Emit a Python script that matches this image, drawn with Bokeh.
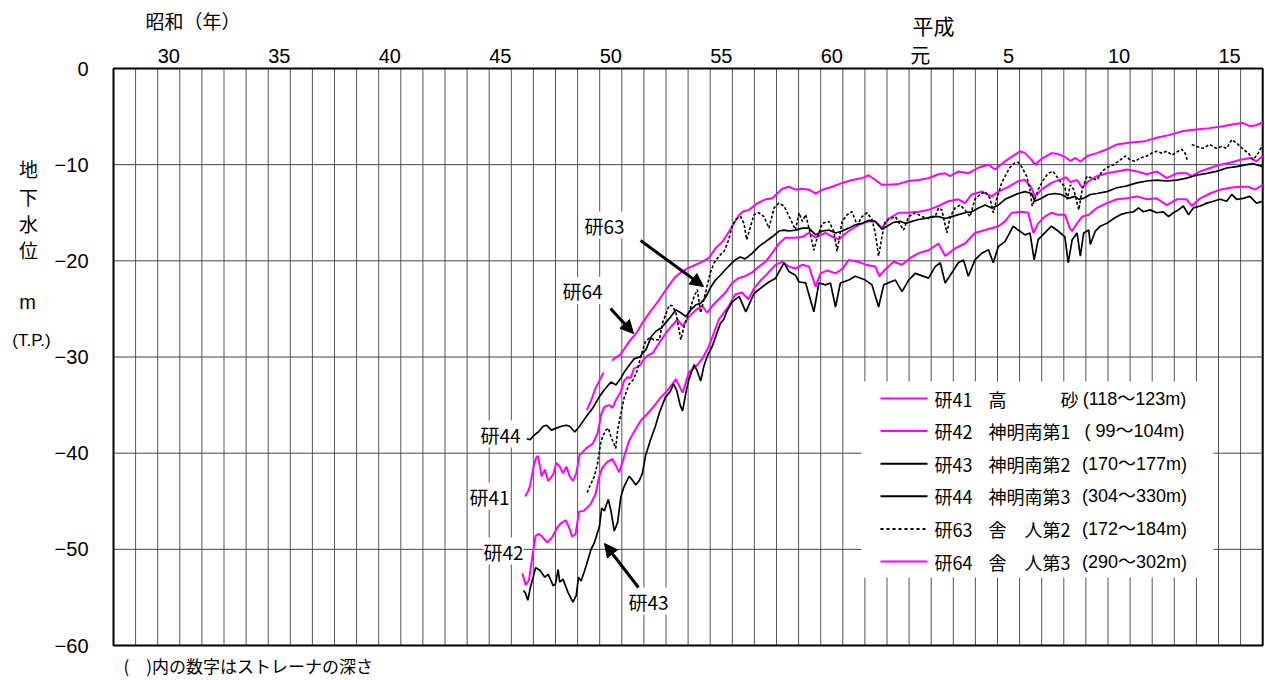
import math
from bokeh.plotting import figure
from bokeh.models import Label, Arrow, NormalHead, Range1d
from bokeh.core.properties import value
from bokeh.embed import file_html
from bokeh.resources import INLINE

NAN = float("nan")

# ---------------- data ----------------
era_tick_years = [1955.5, 1960.5, 1965.5, 1970.5, 1975.5, 1980.5, 1985.5, 1989.5, 1993.5, 1998.5, 2003.5]
era_tick_labels = ["30", "35", "40", "45", "50", "55", "60", "元", "5", "10", "15"]
level_ticks = [0, -10, -20, -30, -40, -50, -60]
level_labels = ["0", "−10", "−20", "−30", "−40", "−50", "−60"]
year_start, year_end = 1953, 2005
year_grid = list(range(1954, 2005))
level_grid = [-10, -20, -30, -40, -50]

k41_year = [1971.63, 1971.75, 1971.85, 1972.0, 1972.12, 1972.2, 1972.3, 1972.37, 1972.52, 1972.67, 1972.9,
            1973.04, 1973.19, 1973.34, 1973.49, 1973.64, 1973.79, 1973.94, 1974.09, 1974.39, 1974.69, 1974.91,
            1975.06, 1975.21, 1975.43, 1975.58, 1975.73, 1975.96, 1976.1, 1976.25, 1976.4, 1976.55, 1976.81,
            1977.0, 1977.2, 1977.4, 1977.7, 1978.0, 1978.25, 1978.52, 1978.75, 1979.04, 1979.35, 1979.64,
            1979.87, 1980.09, 1980.39, 1980.69, 1980.99, 1981.28, 1981.58, 1981.9, 1982.2, 1982.5, 1982.8,
            1983.11, 1983.41, 1983.86, 1984.17, 1984.47, 1984.77, 1985.0, 1985.22, 1985.52, 1985.82, 1986.05,
            1986.27, 1986.72, 1987.17, 1987.47, 1987.77, 1988.08, 1988.53, 1988.98, 1989.43, 1989.88, 1990.33,
            1990.78, 1991.23, 1991.53, 1991.83, 1992.29, 1992.74, 1993.04, 1993.49, 1993.94, 1994.24, 1994.54,
            1994.69, 1994.99, 1995.44, 1995.89, 1996.1, 1996.3, 1996.6, 1996.83, 1997.13, 1997.5, 1997.95,
            1998.4, 1998.86, 1999.3, 1999.76, 2000.2, 2000.66, 2001.11, 2001.56, 2001.79, 2002.17, 2002.62,
            2003.07, 2003.52, 2003.97, 2004.42, 2004.72, 2005.0]
k41_level = [-44.5, -44.0, -43.4, -41.5, -40.5, -40.3, -41.4, -42.4, -41.7, -42.9, -42.2,
             -41.0, -41.4, -42.1, -41.4, -42.4, -42.9, -42.1, -40.2, -39.5, -39.0, -37.9,
             -36.0, -35.2, -35.0, -35.3, -34.5, -33.6, -32.5, -32.1, -32.2, -31.2, -30.9,
             -30.2, -29.8, -29.6, -28.5, -27.5, -26.8, -26.1, -26.8, -25.8, -25.1, -24.7,
             -25.4, -24.7, -24.0, -23.3, -22.3, -21.8, -21.6, -21.2, -20.6, -20.1, -19.2,
             -18.2, -17.6, -17.6, -17.5, -17.1, -17.6, -17.3, -17.1, -17.5, -17.8, -17.3,
             -16.9, -16.25, -15.9, -15.9, -16.6, -15.6, -15.0, -15.0, -14.9, -14.7, -14.3,
             -13.8, -13.6, -14.0, -13.1, -12.8, -13.3, -12.8, -12.3, -11.7, -11.6, -12.4,
             -13.3, -12.6, -11.9, -11.5, -11.3, -11.8, -11.6, -12.4, -11.7, -11.2, -10.9,
             -10.7, -10.5, -10.7, -11.0, -10.7, -11.4, -10.9, -10.9, -11.2, -10.7, -10.35,
             -10.0, -9.8, -9.5, -9.3, -9.65, -9.1]

k42_year = [1971.5, 1971.65, 1971.8, 1971.95, 1972.1, 1972.25, 1972.4, 1972.63, 1972.86, 1973.09, 1973.24,
            1973.46, 1973.61, 1973.76, 1973.91, 1974.06, 1974.28, 1974.59, 1974.82, 1974.97, 1975.12, 1975.35,
            1975.57, 1975.73, 1975.88, 1976.1, 1976.33, 1976.55, 1976.86, 1977.16, 1977.46, 1977.76, 1978.06,
            1978.45, 1978.75, 1979.04, 1979.35, 1979.64, 1979.94, 1980.39, 1980.84, 1981.13, 1981.43, 1981.73,
            1982.0, 1982.3, 1982.6, 1982.96, 1983.26, 1983.56, 1983.86, 1984.17, 1984.47, 1984.77, 1984.99,
            1985.3, 1985.67, 1986.0, 1986.27, 1986.7, 1987.02, 1987.47, 1987.65, 1987.92, 1988.3, 1988.68,
            1989.05, 1989.43, 1989.88, 1990.33, 1990.63, 1991.08, 1991.53, 1991.98, 1992.44, 1993.04, 1993.34,
            1993.64, 1994.09, 1994.39, 1994.62, 1994.84, 1995.14, 1995.44, 1995.74, 1996.05, 1996.27, 1996.38,
            1996.6, 1996.83, 1997.13, 1997.5, 1997.95, 1998.4, 1998.86, 1999.3, 1999.76, 2000.2, 2000.66,
            2001.11, 2001.56, 2001.79, 2002.17, 2002.62, 2003.07, 2003.52, 2003.97, 2004.35, 2004.65, 2005.0]
k42_level = [-52.5, -53.7, -53.2, -50.8, -48.6, -48.4, -48.7, -49.3, -48.7, -47.7, -47.3,
             -47.0, -47.7, -48.7, -48.4, -46.1, -46.0, -45.3, -44.2, -42.5, -41.5, -40.9,
             -40.6, -41.3, -42.0, -40.4, -38.7, -37.8, -36.6, -35.9, -35.1, -34.2, -33.5,
             -32.3, -33.7, -31.6, -31.0, -30.2, -28.9, -26.1, -24.7, -23.5, -23.3, -24.0,
             -22.8, -22.0, -21.3, -20.4, -20.1, -20.6, -20.8, -20.4, -20.6, -22.7, -21.3,
             -21.0, -21.3, -20.8, -19.9, -20.1, -20.4, -20.6, -21.6, -20.9, -20.1, -20.4,
             -19.7, -19.2, -18.9, -18.2, -19.5, -18.7, -18.2, -17.1, -16.8, -16.4, -15.9,
             -15.0, -14.9, -15.0, -17.1, -16.1, -15.4, -15.0, -15.2, -15.2, -16.6, -16.9,
             -16.1, -15.4, -15.2, -14.5, -14.0, -13.6, -13.5, -13.3, -13.6, -13.5, -14.2,
             -13.6, -13.6, -14.3, -13.5, -13.0, -12.6, -12.4, -12.3, -12.3, -12.6, -12.1]

k43_year = [1971.55, 1971.63, 1971.75, 1971.85, 1972.0, 1972.1, 1972.3, 1972.52, 1972.67, 1972.9, 1973.0,
            1973.12, 1973.19, 1973.34, 1973.57, 1973.79, 1973.94, 1974.04, 1974.16, 1974.39, 1974.61, 1974.76,
            1974.99, 1975.09, 1975.21, 1975.39, 1975.51, 1975.66, 1975.81, 1975.96, 1976.1, 1976.33, 1976.48,
            1976.63, 1976.78, 1976.93, 1977.07, 1977.3, 1977.52, 1977.7, 1977.97, 1978.19, 1978.34, 1978.49,
            1978.64, 1978.75, 1978.9, 1979.04, 1979.27, 1979.42, 1979.57, 1979.72, 1979.87, 1980.09, 1980.26,
            1980.46, 1980.61, 1980.76, 1980.99, 1981.31, 1981.61, 1981.98, 1982.36, 1982.66, 1982.96, 1983.34,
            1983.56, 1983.86, 1984.02, 1984.32, 1984.69, 1984.92, 1985.22, 1985.44, 1985.67, 1985.89, 1986.27,
            1986.57, 1987.02, 1987.32, 1987.62, 1987.85, 1988.15, 1988.38, 1988.68, 1988.98, 1989.28, 1989.88,
            1990.18, 1990.41, 1990.63, 1990.86, 1991.23, 1991.46, 1991.68, 1991.98, 1992.29, 1992.59, 1992.81,
            1993.04, 1993.34, 1993.71, 1993.94, 1994.24, 1994.47, 1994.66, 1994.84, 1995.14, 1995.44, 1995.74,
            1996.05, 1996.2, 1996.38, 1996.6, 1996.75, 1996.9, 1997.13, 1997.2, 1997.43, 1997.65, 1997.95,
            1998.26, 1998.56, 1998.86, 1999.16, 1999.38, 1999.6, 1999.91, 2000.2, 2000.5, 2000.74, 2000.96,
            2001.19, 2001.41, 2001.64, 2001.86, 2002.17, 2002.47, 2002.77, 2003.07, 2003.37, 2003.6, 2003.82,
            2004.12, 2004.42, 2004.72, 2005.0]
k43_level = [-54.3, -54.5, -55.3, -54.1, -52.8, -51.9, -52.2, -52.9, -52.6, -53.8, -53.6,
             -52.1, -53.4, -53.1, -54.5, -55.5, -54.8, -52.9, -53.3, -51.7, -50.0, -49.3,
             -47.6, -45.7, -46.0, -44.8, -46.0, -48.1, -47.2, -44.5, -43.5, -42.4, -42.8,
             -43.3, -42.9, -42.1, -40.3, -38.6, -37.2, -35.8, -34.2, -33.6, -32.8, -33.5,
             -35.0, -35.6, -33.7, -32.3, -30.8, -31.5, -32.5, -30.9, -29.9, -28.9, -27.8,
             -26.5, -26.1, -25.2, -24.3, -23.7, -25.3, -23.4, -22.7, -22.2, -21.8, -20.2,
             -21.1, -21.5, -22.2, -22.3, -25.3, -22.3, -22.5, -22.3, -24.8, -22.3, -22.0,
             -21.6, -22.0, -22.5, -24.8, -22.5, -22.2, -22.0, -23.2, -22.0, -21.3, -21.8,
             -20.6, -20.2, -22.3, -21.5, -20.2, -19.9, -21.6, -19.9, -19.2, -18.85, -20.2,
             -18.5, -18.0, -16.4, -16.8, -17.3, -17.1, -19.9, -17.8, -17.1, -16.4, -16.9,
             -17.5, -20.2, -17.8, -17.1, -19.5, -17.1, -16.8, -18.3, -16.9, -16.4, -16.1,
             -15.6, -15.2, -15.0, -14.9, -14.5, -14.9, -14.7, -15.0, -14.9, -15.4, -15.0,
             -14.7, -14.3, -15.2, -14.5, -14.3, -14.0, -13.8, -13.6, -13.8, -13.1, -13.6,
             -13.5, -13.3, -14.0, -13.8]

k44_year = [1971.7, 1971.85, 1972.0, 1972.22, 1972.45, 1972.6, 1972.82, 1973.04, 1973.27, 1973.49, 1973.64,
            1973.87, 1974.09, 1974.39, 1974.69, 1974.99, 1975.21, 1975.51, 1975.73, 1975.96, 1976.13, 1976.35,
            1976.55, 1976.81, 1977.1, 1977.33, 1977.55, 1977.78, 1978.0, 1978.22, 1978.45, 1978.67, 1978.9,
            1979.12, 1979.34, 1979.57, 1979.79, 1980.01, 1980.24, 1980.46, 1980.69, 1980.91, 1981.13, 1981.36,
            1981.58, 1981.91, 1982.21, 1982.51, 1982.81, 1983.11, 1983.34, 1983.56, 1983.86, 1984.17, 1984.47,
            1984.77, 1985.07, 1985.37, 1985.67, 1985.97, 1986.27, 1986.57, 1986.87, 1987.17, 1987.47, 1987.77,
            1988.0, 1988.3, 1988.6, 1988.83, 1989.13, 1989.43, 1989.73, 1990.03, 1990.33, 1990.63, 1990.93,
            1991.23, 1991.53, 1991.83, 1992.14, 1992.44, 1992.74, 1993.04, 1993.34, 1993.64, 1993.94, 1994.24,
            1994.54, 1994.69, 1994.99, 1995.29, 1995.59, 1995.89, 1996.2, 1996.5, 1996.68, 1996.9, 1997.2,
            1997.5, 1997.95, 1998.4, 1998.86, 1999.3, 1999.76, 2000.2, 2000.66, 2001.11, 2001.56, 2002.0,
            2002.47, 2002.9, 2003.37, 2003.82, 2004.27, 2004.57, 2005.0]
k44_level = [-38.5, -38.6, -38.2, -37.8, -37.2, -37.1, -37.6, -37.4, -37.2, -37.1, -37.2,
             -37.8, -37.2, -36.2, -35.3, -34.1, -33.4, -32.6, -32.9, -32.2, -31.5, -30.8,
             -30.2, -30.0, -29.2, -27.9, -27.3, -27.0, -26.4, -25.8, -25.1, -25.4, -25.8,
             -25.1, -24.6, -24.4, -23.8, -22.8, -22.0, -21.5, -20.9, -20.4, -19.9, -19.6,
             -19.8, -19.2, -18.5, -18.0, -17.5, -16.9, -16.8, -16.9, -16.8, -16.6, -16.6,
             -17.3, -16.9, -16.8, -17.1, -16.9, -16.6, -16.25, -16.1, -15.8, -15.9, -16.7,
             -16.4, -16.0, -15.9, -16.1, -15.9, -15.7, -15.6, -15.4, -15.4, -15.6, -15.4,
             -15.2, -15.0, -14.9, -14.5, -14.2, -14.5, -14.2, -13.6, -13.3, -13.0, -12.8,
             -13.0, -13.8, -13.5, -13.1, -13.0, -13.1, -13.5, -13.3, -13.6, -13.5, -13.1,
             -13.0, -12.8, -12.4, -12.2, -11.9, -11.7, -11.6, -11.7, -11.6, -11.4, -11.1,
             -10.9, -10.7, -10.35, -10.2, -10.0, -9.9, -10.2]

k63_year = [1974.43, 1974.6, 1974.76, 1974.91, 1975.03, 1975.13, 1975.28, 1975.39, 1975.51, 1975.66, 1975.73,
            1975.81, 1975.96, 1976.1, 1976.33, 1976.51, 1976.7, 1976.85, 1977.07, 1977.25, 1977.45, 1977.7,
            1977.85, 1978.15, 1978.3, 1978.45, 1978.67, 1978.82, 1979.04, 1979.27, 1979.42, 1979.57, 1979.79,
            1980.01, 1980.18, 1980.4, 1980.63, 1980.84, 1980.99, 1981.16, 1981.38, 1981.53, 1981.65, 1981.83,
            1981.98, 1982.2, 1982.43, 1982.66, 1982.89, 1983.11, 1983.34, 1983.49, 1983.64, 1983.86, 1984.02,
            1984.17, 1984.32, 1984.47, 1984.69, 1984.84, 1985.07, 1985.37, 1985.59, 1985.74, 1985.97, 1986.2,
            1986.42, 1986.65, 1986.87, 1987.1, 1987.32, 1987.47, 1987.62, 1987.77, 1987.92, 1988.15, 1988.38,
            1988.6, 1988.75, 1988.98, 1989.28, 1989.58, 1989.88, 1990.18, 1990.33, 1990.48, 1990.63, 1990.71,
            1990.86, 1991.08, 1991.31, 1991.53, 1991.76, 1991.98, 1992.21, 1992.44, 1992.66, 1992.81, 1992.96,
            1993.19, 1993.41, 1993.56, 1993.79, 1993.94, 1994.09, 1994.32, 1994.47, 1994.57, 1994.69, 1994.84,
            1995.07, 1995.29, 1995.52, 1995.67, 1995.82, 1996.05, 1996.15, 1996.3, 1996.45, 1996.68, 1996.83,
            1997.05, 1997.28, 1997.5, 1997.73, 1997.95, 1998.26, 1998.56, 1998.78, 1999.0, 1999.23, 1999.46,
            1999.76, 1999.98, 2000.2, 2000.44, 2000.66, 2000.89, 2001.11, 2001.34, 2001.49, 2001.6, 2001.7,
            2001.79, 2002.0, 2002.3, 2002.6, 2002.9, 2003.14, 2003.37, 2003.6, 2003.82, 2004.12, 2004.35,
            2004.57, 2004.8, 2005.0]
k63_level = [-44.1, -43.2, -42.4, -41.0, -39.1, -38.3, -37.6, -37.4, -38.3, -39.1, -39.5,
             -37.6, -35.9, -34.3, -32.8, -32.4, -31.4, -30.0, -28.4, -28.0, -28.2, -28.2,
             -26.4, -24.6, -24.7, -25.4, -28.2, -26.8, -25.4, -23.7, -23.0, -25.4, -23.3,
             -21.2, -20.2, -19.5, -19.0, -17.8, -16.4, -15.7, -15.4, -16.1, -17.8, -16.4,
             -15.2, -15.0, -15.4, -16.6, -14.5, -14.0, -14.3, -15.0, -15.7, -16.8, -15.0,
             -15.9, -15.2, -16.6, -18.9, -17.6, -16.1, -15.9, -16.9, -19.0, -15.9, -15.2,
             -14.9, -16.3, -15.4, -15.0, -15.7, -17.1, -19.5, -17.5, -15.9, -15.6, -15.4,
             -16.25, -16.8, -15.4, -15.0, -15.4, -15.6, -15.4, -14.5, -14.7, -16.25, -17.1,
             -15.4, -14.5, -14.2, -14.7, -15.4, -13.6, -13.1, -12.8, -13.5, -15.0, -13.6,
             -11.9, -10.9, -10.3, -9.8, -9.75, -10.2, -11.2, -12.6, -14.3, -13.6, -12.6,
             -11.6, -10.9, -10.7, -11.2, -11.7, -12.3, -13.6, -12.1, -12.6, -14.7, -12.6,
             -11.2, -11.4, -11.6, -10.7, -10.3, -10.0, -9.5, -9.1, -9.5, -9.65, -9.3,
             -9.1, -8.8, -8.6, -8.8, -8.6, -9.0, -8.7, -8.4, -8.8, -9.65, NAN,
             -7.9, -8.1, -8.3, -7.9, -8.3, -8.1, -8.3, -7.4, -7.75, -8.4, -8.8,
             -9.5, -8.8, -7.9]

k64_year = [1974.42, 1974.6, 1974.8, 1975.0, 1975.18, 1975.35, 1975.55, 1975.75, 1975.91, 1976.1, 1976.33,
            1976.66, 1976.95, 1977.25, 1977.55, 1977.85, 1978.15, 1978.45, 1978.75, 1979.04, 1979.35, 1979.64,
            1979.94, 1980.24, 1980.56, 1980.84, 1981.0, 1981.28, 1981.46, 1981.76, 1982.14, 1982.51, 1982.81,
            1983.26, 1983.56, 1983.86, 1984.17, 1984.47, 1984.77, 1985.07, 1985.52, 1985.97, 1986.42, 1986.87,
            1987.17, 1987.47, 1987.77, 1988.08, 1988.53, 1988.98, 1989.43, 1989.88, 1990.33, 1990.63, 1990.86,
            1991.23, 1991.68, 1992.14, 1992.59, 1992.89, 1993.34, 1993.79, 1994.02, 1994.24, 1994.54, 1994.69,
            1994.99, 1995.44, 1995.74, 1996.05, 1996.3, 1996.53, 1996.75, 1997.05, 1997.5, 1997.95, 1998.4,
            1999.0, 1999.6, 2000.2, 2000.8, 2001.4, 2002.0, 2002.6, 2003.2, 2003.67, 2004.1, 2004.4,
            2004.7, 2005.0]
k64_level = [-35.5, -34.6, -33.3, -32.4, -31.6, NAN, -30.4, -30.0, -29.8, -29.2, -28.4,
             -27.5, -26.4, -25.4, -24.5, -23.5, -22.5, -21.6, -21.1, -20.7, -20.4, -20.1,
             -19.7, -18.7, -18.0, -17.0, -16.4, -15.3, -14.9, -14.7, -14.0, -13.6, -13.5,
             -12.5, -12.3, -12.6, -12.5, -12.6, -13.0, -12.6, -12.3, -11.9, -11.6, -11.4,
             -11.1, -11.6, -12.1, -12.1, -12.0, -11.7, -11.6, -11.4, -11.0, -10.9, -11.2,
             -10.7, -10.9, -10.3, -10.0, -10.5, -9.65, -8.96, -8.6, -8.8, -9.5, -10.0,
             -9.4, -8.8, -8.9, -9.2, -9.6, -9.3, -9.7, -9.1, -8.8, -8.4, -7.9,
             -7.7, -7.6, -7.2, -6.9, -6.5, -6.35, -6.2, -6.0, -5.8, -5.66, -6.0,
             -5.9, -5.6]

legend_ids = ["研41", "研42", "研43", "研44", "研63", "研64"]
legend_names = ["高　　　砂", "神明南第1", "神明南第2", "神明南第3", "舎　人第2", "舎　人第3"]
legend_depths = ["(118～123m)", "( 99～104m)", "(170～177m)", "(304～330m)", "(172～184m)", "(290～302m)"]

# ---------------- layout helpers (picture pixels -> data units) ----------------
W, H = 1265, 680
PX_L, PX_T = 113.0, 68.0
PX_PER_YEAR = 22.1
PX_PER_M = 577.0 / 60.0


def X(px):
    return year_start + (px - PX_L) / PX_PER_YEAR


def Y(py):
    return -(py - PX_T) / PX_PER_M


MAGENTA = "#FF00FF"
BLACK = "#000000"
NUM_FONT = "Liberation Sans, Noto Sans CJK JP"
JP_FONT = "Noto Sans CJK JP"

p = figure(width=W, height=H, x_range=Range1d(X(0), X(W)), y_range=Range1d(Y(H), Y(0)),
           x_axis_location=None, y_axis_location=None, output_backend="svg",
           toolbar_location=None, min_border=0)
p.min_border_left = p.min_border_right = p.min_border_top = p.min_border_bottom = 0
p.background_fill_color = "white"
p.border_fill_color = "white"
p.outline_line_color = None
p.grid.visible = False

y_top, y_bot = level_ticks[0], level_ticks[-1]

# grid
p.segment(x0=year_grid, y0=[y_bot] * len(year_grid), x1=year_grid, y1=[y_top] * len(year_grid),
          line_color="#555555", line_width=1)
p.segment(x0=[year_start] * len(level_grid), y0=level_grid, x1=[year_end] * len(level_grid), y1=level_grid,
          line_color="#444444", line_width=1)

# legend background box (covers grid)
p.quad(left=[X(861)], right=[X(1213)], top=[Y(381)], bottom=[Y(577)],
       fill_color="white", line_color=None)

# plot frame
p.quad(left=[year_start], right=[year_end], top=[y_top], bottom=[y_bot],
       fill_color=None, line_color="black", line_width=2)

# tick labels
p.text(x=era_tick_years, y=[Y(55)] * len(era_tick_years), text=era_tick_labels,
       text_font=value(NUM_FONT), text_font_size=value("20px"), text_align="center",
       text_baseline="middle", text_color="black")
p.text(x=[X(88)] * len(level_ticks), y=level_ticks, text=level_labels,
       text_font=value(NUM_FONT), text_font_size=value("20px"), text_align="right",
       text_baseline="middle", text_color="black")

# data series
p.line(k42_year, k42_level, line_color=MAGENTA, line_width=2)
p.line(k41_year, k41_level, line_color=MAGENTA, line_width=2)
p.line(k64_year, k64_level, line_color=MAGENTA, line_width=2)
p.line(k43_year, k43_level, line_color=BLACK, line_width=1.7)
p.line(k44_year, k44_level, line_color=BLACK, line_width=1.7)
p.line(k63_year, k63_level, line_color=BLACK, line_width=1.6, line_dash="3 2")

# legend rows
row_colors = [MAGENTA, MAGENTA, BLACK, BLACK, BLACK, MAGENTA]
row_dashes = ["solid", "solid", "solid", "solid", "3 3", "solid"]
row_y0, row_dy = 398.0, 32.6
for i in range(len(legend_ids)):
    ry = row_y0 + i * row_dy
    p.line([X(880), X(927)], [Y(ry), Y(ry)], line_color=row_colors[i], line_width=2,
           line_dash=row_dashes[i])
    p.add_layout(Label(x=X(934), y=Y(ry), text=legend_ids[i], text_font=JP_FONT,
                       text_font_size="18px", text_baseline="middle", text_align="left",
                       text_color="black"))
    p.add_layout(Label(x=X(988), y=Y(ry), text=legend_names[i], text_font=JP_FONT,
                       text_font_size="18px", text_baseline="middle", text_align="left",
                       text_color="black"))
    p.add_layout(Label(x=X(1134), y=Y(ry), text=legend_depths[i], text_font=NUM_FONT,
                       text_font_size="18px", text_baseline="middle", text_align="center",
                       text_color="black"))

# series annotations
ann = [("研44", 500, 433.5), ("研41", 489, 495.5), ("研42", 503, 550.5),
       ("研43", 648, 600.5), ("研63", 604, 224.5), ("研64", 582, 290)]
for t, ax, ay in ann:
    p.add_layout(Label(x=X(ax), y=Y(ay), text=t, text_font=JP_FONT, text_font_size="19px",
                       text_align="center", text_baseline="middle", text_color="black",
                       background_fill_color="white", background_fill_alpha=1.0))

arrows = [(640, 240, 703, 286), (610, 308, 633, 333), (638, 587, 604, 543)]
for x0, y0, x1, y1 in arrows:
    p.add_layout(Arrow(end=NormalHead(size=13, fill_color="black", line_color="black"),
                       x_start=X(x0), y_start=Y(y0), x_end=X(x1), y_end=Y(y1),
                       line_width=3, line_color="black"))

# axis titles / notes
y_title_chars = ["地", "下", "水", "位"]
y_title_pos = [168, 196, 223, 249]
for ch, cy in zip(y_title_chars, y_title_pos):
    p.add_layout(Label(x=X(28), y=Y(cy), text=ch, text_font=JP_FONT, text_font_size="19px",
                       text_align="center", text_baseline="middle", text_color="black"))
p.add_layout(Label(x=X(27), y=Y(301), text="m", text_font=NUM_FONT, text_font_size="20px",
                   text_align="center", text_baseline="middle", text_color="black"))
p.add_layout(Label(x=X(31), y=Y(340), text="(T.P.)", text_font=NUM_FONT, text_font_size="17px",
                   text_align="center", text_baseline="middle", text_color="black"))
p.add_layout(Label(x=X(145), y=Y(20), text="昭和（年）", text_font=JP_FONT, text_font_size="19px",
                   text_align="left", text_baseline="middle", text_color="black"))
p.add_layout(Label(x=X(912), y=Y(24), text="平成", text_font=JP_FONT, text_font_size="21px",
                   text_align="left", text_baseline="middle", text_color="black"))
p.add_layout(Label(x=X(123), y=Y(665), text="(　)内の数字はストレーナの深さ", text_font=JP_FONT,
                   text_font_size="17px", text_align="left", text_baseline="middle",
                   text_color="black"))

open("out.html", "w").write(file_html(p, INLINE))
